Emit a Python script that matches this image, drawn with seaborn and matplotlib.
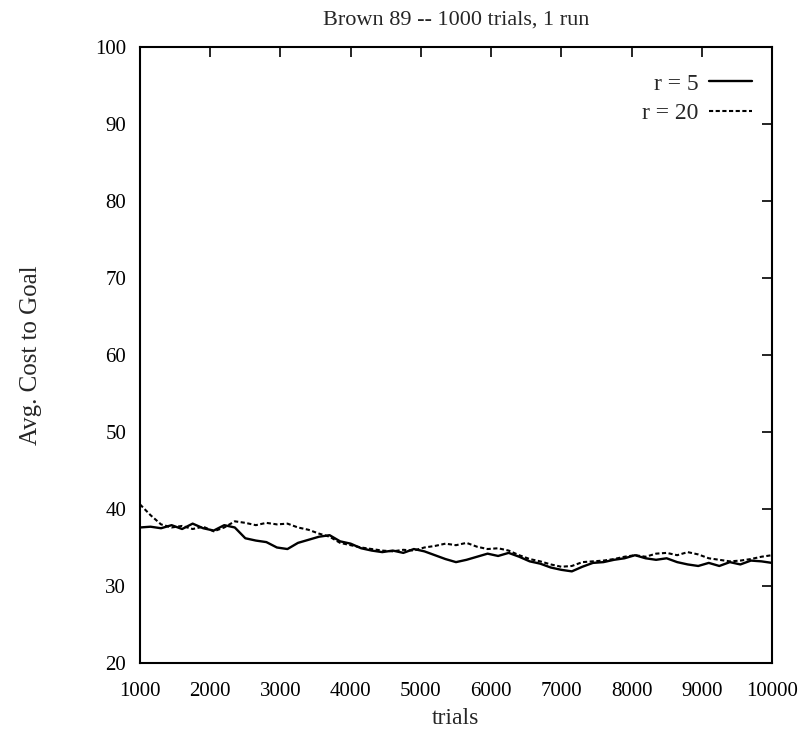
import matplotlib
matplotlib.use("Agg")
import matplotlib.pyplot as plt
import numpy as np
import pandas as pd
import seaborn as sns

# trials sampled every 150 from 1000 to 10000
trials = list(range(1000, 10001, 150))

cost_r5 = [37.6, 37.7, 37.5, 37.9, 37.4, 38.1, 37.5, 37.2, 37.9, 37.6,
           36.2, 35.9, 35.7, 35.0, 34.8, 35.6, 36.0, 36.4, 36.6, 35.8,
           35.5, 34.9, 34.6, 34.4, 34.6, 34.3, 34.8, 34.5, 34.0, 33.5,
           33.1, 33.4, 33.8, 34.2, 33.9, 34.3, 33.8, 33.2, 32.9, 32.4,
           32.1, 31.9, 32.5, 33.0, 33.1, 33.4, 33.6, 34.0, 33.6, 33.4,
           33.6, 33.1, 32.8, 32.6, 33.0, 32.6, 33.1, 32.8, 33.3, 33.2,
           33.0]

cost_r20 = [40.6, 39.2, 38.0, 37.6, 37.8, 37.4, 37.7, 37.1, 37.6, 38.4,
            38.2, 37.9, 38.2, 38.0, 38.1, 37.6, 37.3, 36.8, 36.4, 35.6,
            35.3, 35.0, 34.8, 34.6, 34.5, 34.7, 34.6, 35.0, 35.2, 35.5,
            35.3, 35.6, 35.1, 34.8, 34.9, 34.6, 34.0, 33.5, 33.2, 32.8,
            32.5, 32.6, 33.1, 33.2, 33.3, 33.5, 33.8, 34.0, 33.8, 34.2,
            34.3, 34.0, 34.4, 34.1, 33.6, 33.4, 33.2, 33.3, 33.5, 33.8,
            34.0]

x_ticks = list(range(1000, 10001, 1000))
y_ticks = list(range(20, 101, 10))

sns.set_style("white")
plt.rcParams["font.family"] = ["Liberation Serif", "DejaVu Serif"]

df = pd.DataFrame({
    "trials": trials * 2,
    "cost": cost_r5 + cost_r20,
    "run": ["r = 5"] * len(trials) + ["r = 20"] * len(trials),
})

fig = plt.figure(figsize=(8.12, 7.33), dpi=100)
ax = fig.add_axes([0.1724, 0.0955, 0.7783, 0.8404])

sns.lineplot(data=df[df["run"] == "r = 5"], x="trials", y="cost", color="black",
             linewidth=1.7, label="r = 5", ax=ax)
sns.lineplot(data=df[df["run"] == "r = 20"], x="trials", y="cost", color="black",
             linewidth=1.5, linestyle=(0, (2, 1.2)), label="r = 20", ax=ax)

ax.set_xlim(1000, 10000)
ax.set_ylim(20, 100)
ax.set_xticks(x_ticks)
ax.set_yticks(y_ticks)
ax.tick_params(direction="in", length=7, width=1.2, top=True, right=True,
               labelsize=15, colors="black")
ax.tick_params(axis="x", pad=14)
ax.tick_params(axis="y", pad=10)
for s in ax.spines.values():
    s.set_linewidth(1.5)
    s.set_color("black")

ax.set_title("Brown 89 -- 1000 trials, 1 run", fontsize=16, pad=16)
ax.set_xlabel("trials", fontsize=17, labelpad=5)
ax.set_ylabel("Avg. Cost to Goal", fontsize=18, labelpad=38)

leg = ax.legend(loc="upper right", bbox_to_anchor=(1.0, 0.99), frameon=False,
                markerfirst=False, fontsize=17, handlelength=1.8,
                handletextpad=0.45, borderaxespad=0.45, labelspacing=0.32)

fig.savefig("out.png", dpi=100)
